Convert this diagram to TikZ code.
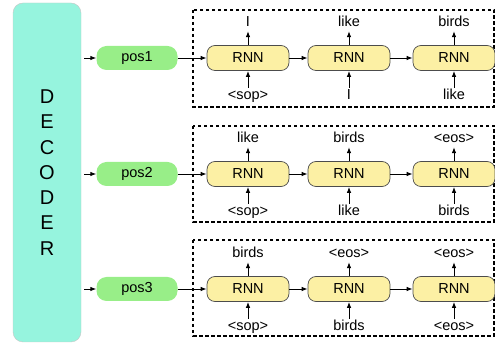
\documentclass[tikz,border=0pt]{standalone}
\usepackage{fontspec}
\setmainfont{Liberation Sans}
\usetikzlibrary{positioning, arrows.meta}

\definecolor{decfill}{HTML}{96F4DE}
\definecolor{posfill}{HTML}{98EE88}
\definecolor{rnnfill}{HTML}{FCF0A4}

\tikzset{
    decoder/.style={draw=gray!45, fill=decfill, rounded corners=10pt, minimum width=68pt, minimum height=339pt, align=center, font=\fontsize{20}{25.3}\selectfont},
    posbox/.style={fill=posfill, rounded corners=10pt, minimum width=81pt, minimum height=24pt, font=\fontsize{14.5}{16}\selectfont},
    rnn/.style={draw=black!70, fill=rnnfill, rounded corners=8pt, minimum width=82pt, minimum height=25pt, line width=0.7pt, font=\fontsize{14.5}{16}\selectfont},
    word/.style={inner sep=1pt, text height=10pt, text depth=3pt, font=\fontsize{14.5}{16}\selectfont},
    frame/.style={line width=1.2pt, dash pattern=on 3.5pt off 2.5pt},
    arrow/.style={line width=0.9pt, -{Latex[length=6pt, width=4.5pt]}}
}

\begin{document}
\begin{tikzpicture}[x=1pt, y=-1pt]
        \useasboundingbox (0,0) rectangle (495,344);
        %\draw[step=10pt,gray,very thin] (0,0) grid (495,344);

        % Decoder.
        \node[decoder] (dec) at (47,172.5) {D\\E\\C\\O\\D\\E\\R};

        % Frames.
        \draw[frame] (193,10) rectangle (494,107);
        \draw[frame] (193,126) rectangle (494,222);
        \draw[frame] (193,240) rectangle (494,336);

        %row 1
        \node[posbox] (p1) at (137,58) {pos1};
        \node[rnn] (r11) at (248,58) {RNN};
        \node[rnn] (r12) at (349,58) {RNN};
        \node[rnn] (r13) at (454,58) {RNN};
        \node[word, above=14pt of r11] (o11) {I};
        \node[word, above=14pt of r12] (o12) {like};
        \node[word, above=14pt of r13] (o13) {birds};
        \node[word, below=17pt of r11] (i11) {<sop>};
        \node[word, below=17pt of r12] (i12) {I};
        \node[word, below=17pt of r13] (i13) {like};

        %row 2
        \node[posbox] (p2) at (137,174) {pos2};
        \node[rnn] (r21) at (248,174) {RNN};
        \node[rnn] (r22) at (349,174) {RNN};
        \node[rnn] (r23) at (454,174) {RNN};
        \node[word, above=14pt of r21] (o21) {like};
        \node[word, above=14pt of r22] (o22) {birds};
        \node[word, above=14pt of r23] (o23) {<eos>};
        \node[word, below=17pt of r21] (i21) {<sop>};
        \node[word, below=17pt of r22] (i22) {like};
        \node[word, below=17pt of r23] (i23) {birds};

        %row 3
        \node[posbox] (p3) at (137,289) {pos3};
        \node[rnn] (r31) at (248,289) {RNN};
        \node[rnn] (r32) at (349,289) {RNN};
        \node[rnn] (r33) at (454,289) {RNN};
        \node[word, above=14pt of r31] (o31) {birds};
        \node[word, above=14pt of r32] (o32) {<eos>};
        \node[word, above=14pt of r33] (o33) {<eos>};
        \node[word, below=17pt of r31] (i31) {<sop>};
        \node[word, below=17pt of r32] (i32) {birds};
        \node[word, below=17pt of r33] (i33) {<eos>};

        % Arrows.
        \foreach \r in {1,2,3} {
            \draw[arrow, shorten <=3pt] (dec.east |- p\r) -- (p\r);
            \draw[arrow] (p\r) -- (r\r1);
            \draw[arrow] (r\r1) -- (r\r2);
            \draw[arrow] (r\r2) -- (r\r3);
            \foreach \c in {1,2,3} {
                \draw[arrow] (i\r\c) -- (r\r\c);
                \draw[arrow] (r\r\c) -- (o\r\c);
            }
        }

\end{tikzpicture}
\end{document}
